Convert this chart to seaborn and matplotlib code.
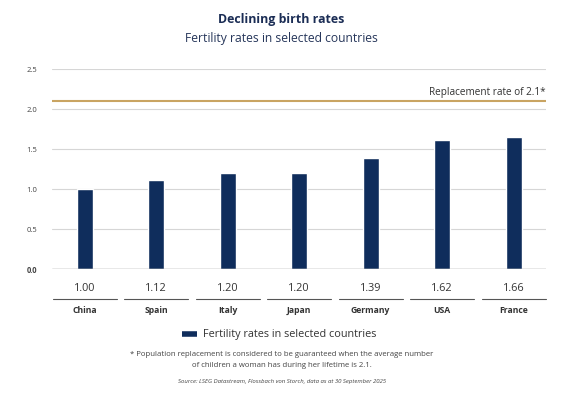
import matplotlib
matplotlib.use("Agg")
import matplotlib.pyplot as plt
import matplotlib.transforms as mtransforms
from matplotlib.lines import Line2D
import seaborn as sns
import pandas as pd

countries = ["China", "Spain", "Italy", "Japan", "Germany", "USA", "France"]
fertility = [1.00, 1.12, 1.20, 1.20, 1.39, 1.62, 1.66]
value_labels = ["1.00", "1.12", "1.20", "1.20", "1.39", "1.62", "1.66"]
replacement_rate = 2.1
y_ticks = [0.0, 0.5, 1.0, 1.5, 2.0, 2.5]
y_tick_labels = ["0.0", "0.5", "1.0", "1.5", "2.0", "2.5"]

NAVY = "#0f2d5c"
GOLD = "#c9a462"
GREY = "#444444"
FONT = "Open Sans"

sns.set_style("white")
plt.rcParams["font.family"] = [FONT, "DejaVu Sans"]

df = pd.DataFrame({"country": countries, "rate": fertility})

fig = plt.figure(figsize=(5.61, 3.99), dpi=100)
ax = fig.add_axes([52.3 / 561, 1 - 269.3 / 399, (546 - 52.3) / 561, 200 / 399])

sns.barplot(data=df, x="country", y="rate", color=NAVY, width=0.224,
            saturation=1, ax=ax, zorder=3)

ax.set_xlim(-0.453, 6.452)
ax.set_ylim(0, 2.5)
ax.set_yticks(y_ticks)
ax.set_yticklabels(y_tick_labels)
for lbl in ax.get_yticklabels():
    lbl.set_fontsize(5.5)
    lbl.set_color(GREY)
ax.get_yticklabels()[0].set_fontweight("bold")
ax.tick_params(axis="y", length=0, pad=11)
ax.tick_params(axis="x", length=0, labelbottom=False)
ax.set_xlabel("")
ax.set_ylabel("")
for s in ax.spines.values():
    s.set_visible(False)

for t in y_ticks[1:]:
    ax.axhline(t, color="#d6d6d6", lw=0.8, zorder=1)
ax.axhline(0, color="#8a8a8a", lw=1.0, zorder=4)

ax.axhline(replacement_rate, color=GOLD, lw=1.5, zorder=2)
ax.text(6.452, replacement_rate + 0.11, "Replacement rate of 2.1*", ha="right",
        va="center", fontsize=7.2, color="#333333")

# table under the chart
trans = mtransforms.blended_transform_factory(ax.transData, fig.transFigure)
for i, (c, v) in enumerate(zip(countries, value_labels)):
    ax.text(i, 1 - 288.3 / 399, v, transform=trans, ha="center", va="center",
            fontsize=7.8, color="#333333")
    ax.plot([i - 0.45, i + 0.45], [1 - 299.3 / 399] * 2, transform=trans,
            color="#555555", lw=0.8, clip_on=False)
    ax.text(i, 1 - 310.5 / 399, c, transform=trans, ha="center", va="center",
            fontsize=6.2, fontweight="bold", color="#333333")

fig.text(281 / 561, 1 - 20 / 399, "Declining birth rates", ha="center", va="center",
         fontsize=8.9, fontweight="bold", color="#1b2d55")
fig.text(281 / 561, 1 - 38.5 / 399, "Fertility rates in selected countries",
         ha="center", va="center", fontsize=8.7, color="#26365a")

handle = Line2D([0], [0], color=NAVY, lw=4, solid_capstyle="butt")
fig.legend([handle], ["Fertility rates in selected countries"],
           loc="center", bbox_to_anchor=(279.5 / 561, 1 - 335 / 399),
           frameon=False, fontsize=7.8, handlelength=1.35, handletextpad=0.6,
           labelcolor="#333333")

fig.text(282 / 561, 1 - 354.3 / 399,
         "* Population replacement is considered to be guaranteed when the average number",
         ha="center", va="center", fontsize=5.6, color="#444444")
fig.text(282 / 561, 1 - 365.5 / 399,
         "of children a woman has during her lifetime is 2.1.",
         ha="center", va="center", fontsize=5.6, color="#444444")
fig.text(282 / 561, 1 - 381 / 399,
         "Source: LSEG Datastream, Flossbach von Storch, data as at 30 September 2025",
         ha="center", va="center", fontsize=4.3, style="italic", color="#444444")

fig.savefig("out.png", dpi=100, facecolor="white")
